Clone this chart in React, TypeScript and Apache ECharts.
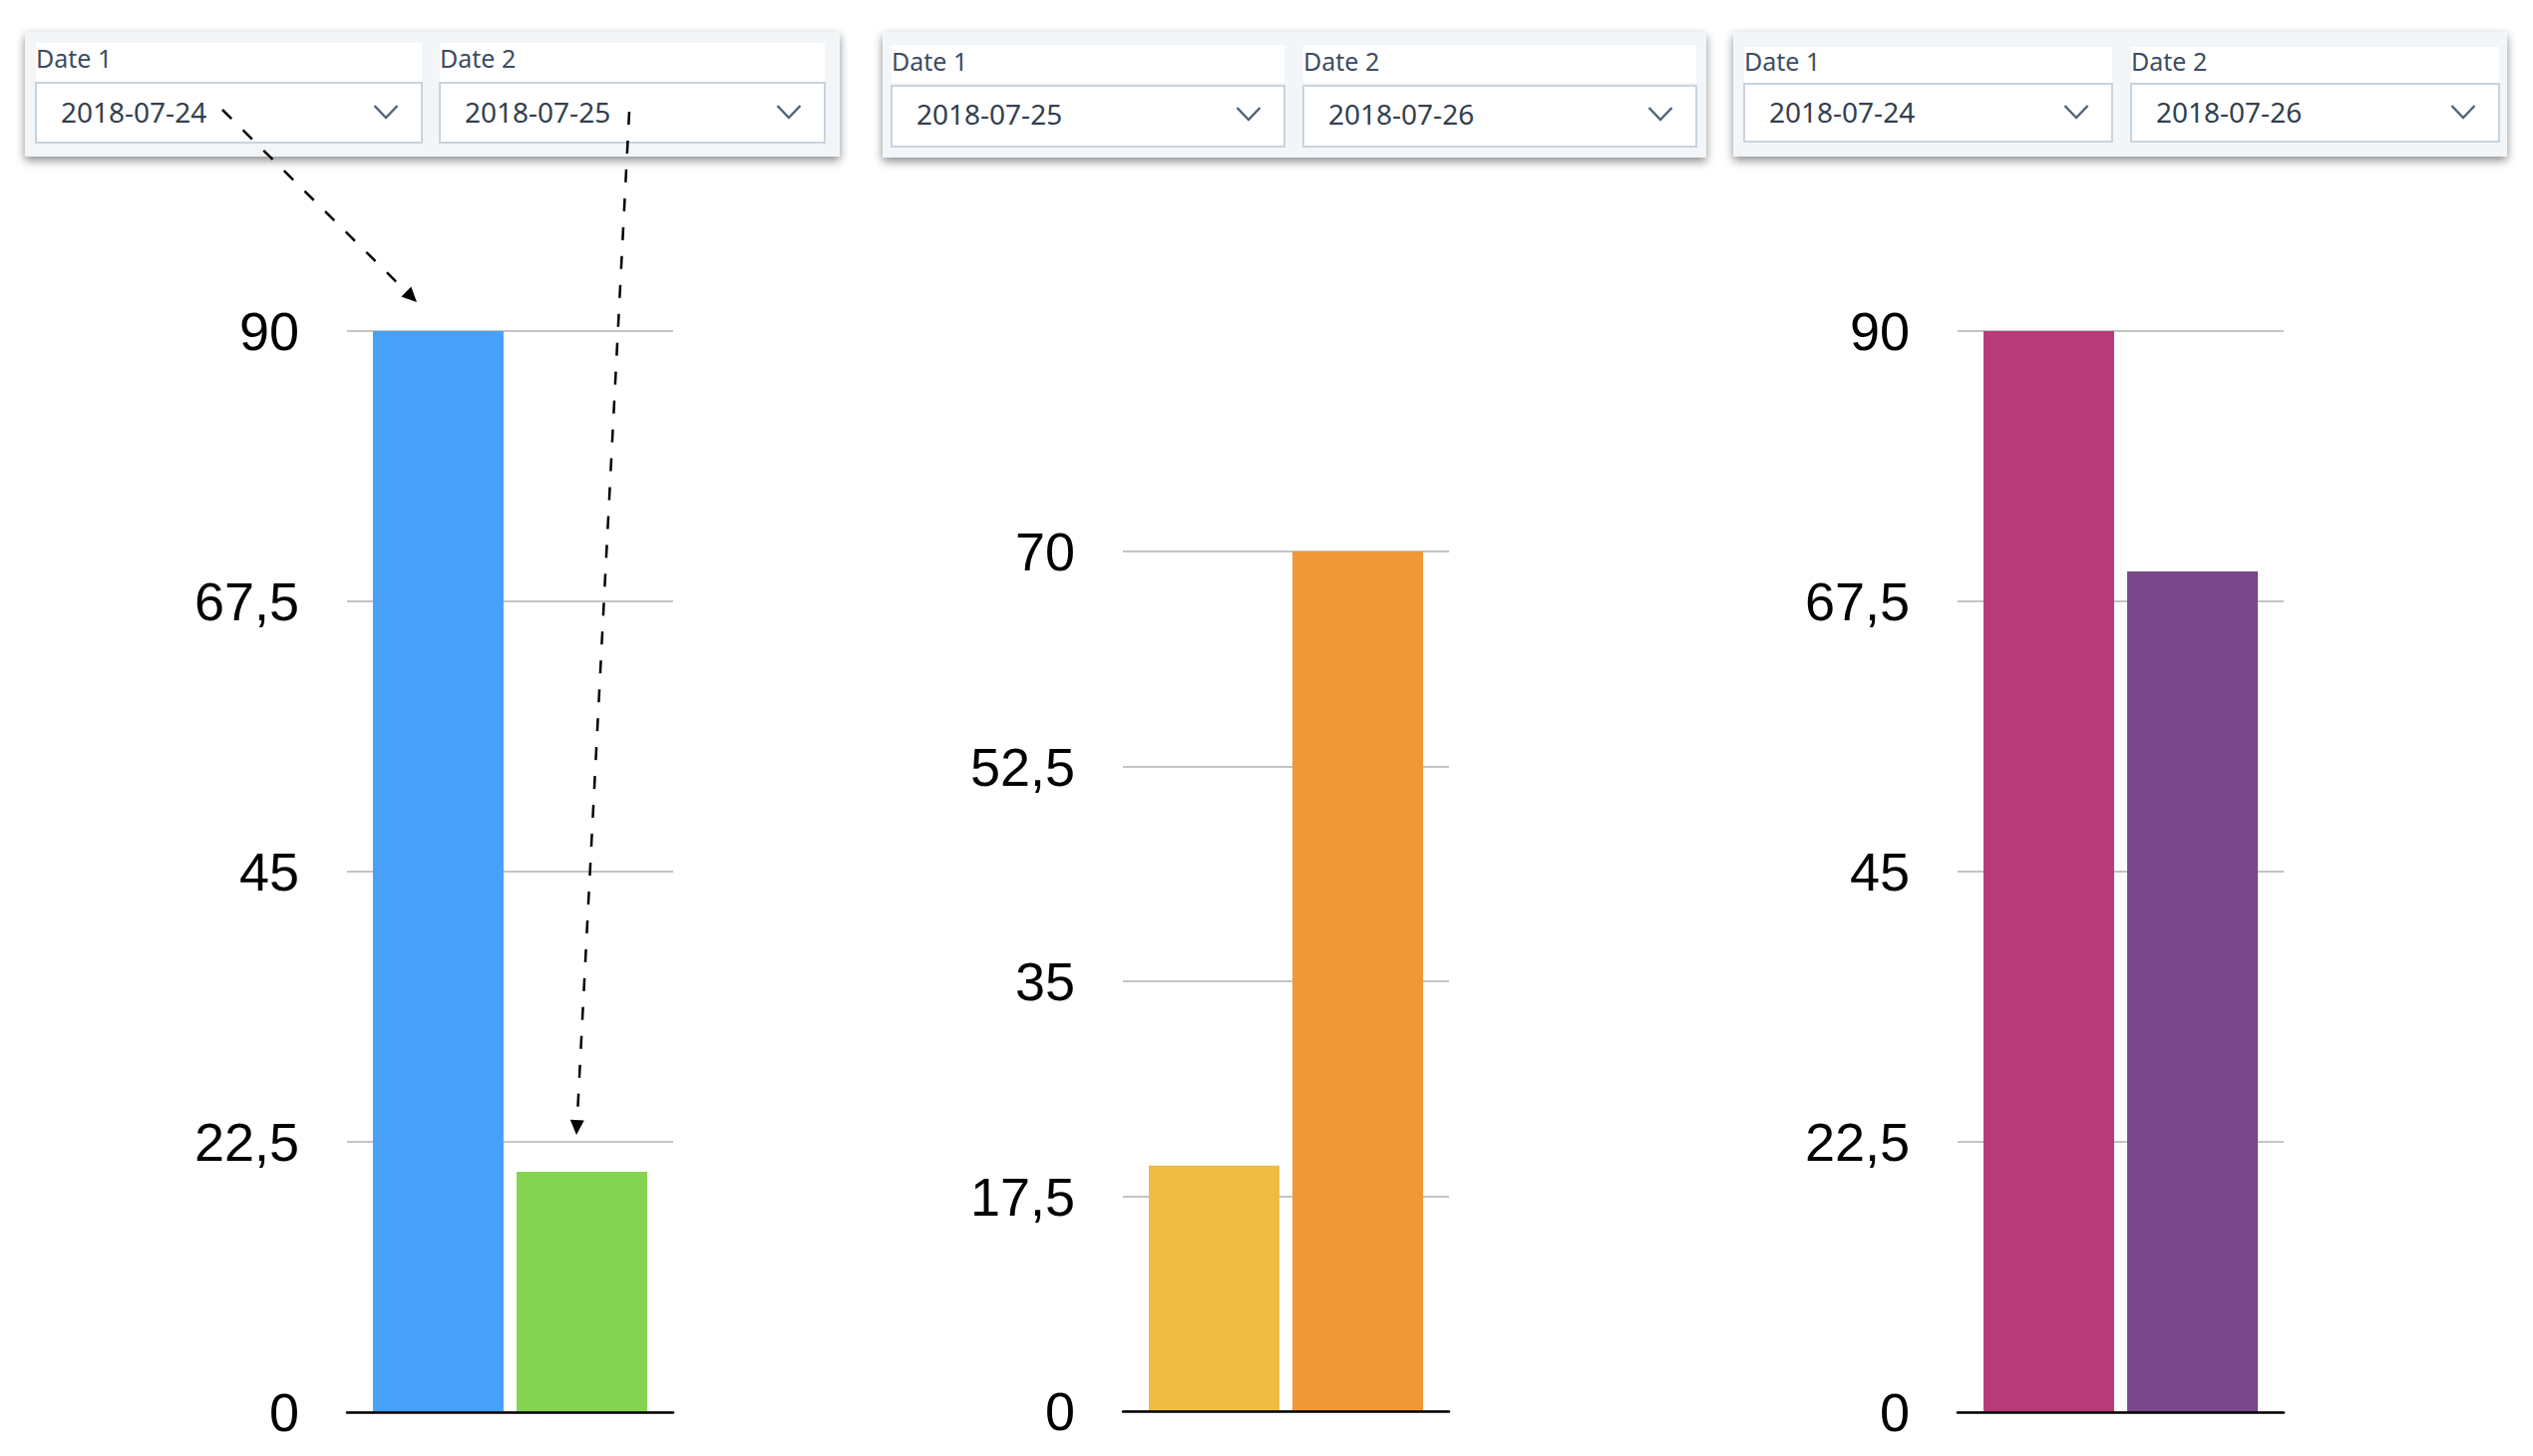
import React, { useEffect, useRef } from "react";
import * as echarts from "echarts";

// ---- data ----
const seriesNames = ["Date 1", "Date 2"];
const chart1Dates = ["2018-07-24", "2018-07-25"];
const chart2Dates = ["2018-07-25", "2018-07-26"];
const chart3Dates = ["2018-07-24", "2018-07-26"];
const chart1Values = [90, 20];
const chart2Values = [20, 70];
const chart3Values = [90, 70];
const chart1Colors = ["#47a1f8", "#84d452"];
const chart2Colors = ["#eebb43", "#ef9837"];
const chart3Colors = ["#b93a78", "#79478a"];
const chart1Axis = { max: 90, interval: 22.5 };
const chart2Axis = { max: 70, interval: 17.5 };
const chart3Axis = { max: 90, interval: 22.5 };

const grids = [
  { left: 348, top: 332, width: 327, height: 1084 },
  { left: 1126, top: 553, width: 327, height: 862 },
  { left: 1963, top: 332, width: 327, height: 1084 },
];
const barWidths = [131, 131, 131];

const panels = [
  { x: 25, y: 32, w: 817, h: 125, labelY: 43, labelH: 39, boxY: 83, boxH: 60, boxes: [[36, 387], [441, 386]], labelTextY: 58, dateTextY: 112 },
  { x: 885, y: 32, w: 826, h: 126, labelY: 45, labelH: 38, boxY: 86, boxH: 61, boxes: [[894, 394], [1307, 394]], labelTextY: 61, dateTextY: 114 },
  { x: 1738, y: 32, w: 776, h: 125, labelY: 47, labelH: 36, boxY: 84, boxH: 58, boxes: [[1749, 369], [2137, 369]], labelTextY: 61, dateTextY: 112 },
];

function panelGraphics(p: any, dates: string[]) {
  const els: any[] = [];
  els.push({
    type: "rect",
    shape: { x: p.x, y: p.y, width: p.w, height: p.h },
    style: { fill: "#f3f6f9", shadowBlur: 10, shadowOffsetY: 4, shadowColor: "rgba(0,0,0,0.45)" },
    z: 10,
  });
  p.boxes.forEach((b: number[], i: number) => {
    const [bx, bw] = b;
    els.push({ type: "rect", shape: { x: bx, y: p.labelY, width: bw, height: p.labelH }, style: { fill: "#ffffff" }, z: 11 });
    els.push({
      type: "rect",
      shape: { x: bx, y: p.boxY, width: bw, height: p.boxH },
      style: { fill: "#ffffff", stroke: "#c9d3de", lineWidth: 2 },
      z: 11,
    });
    els.push({
      type: "text",
      x: bx,
      y: p.labelTextY,
      style: { text: seriesNames[i], fontFamily: "Noto Sans", fontSize: 25, fill: "#3c4d63", textVerticalAlign: "middle" },
      z: 12,
    });
    els.push({
      type: "text",
      x: bx + 25,
      y: p.dateTextY,
      style: { text: dates[i], fontFamily: "Noto Sans", fontSize: 28, fill: "#333f4e", textVerticalAlign: "middle" },
      z: 12,
    });
    const cx = bx + bw - 36;
    const cy = p.dateTextY;
    els.push({
      type: "polyline",
      shape: { points: [[cx - 11.5, cy - 6], [cx, cy + 6], [cx + 11.5, cy - 6]] },
      style: { stroke: "#51647a", lineWidth: 2.5, fill: null },
      z: 12,
    });
  });
  return els;
}

function arrow(x1: number, y1: number, x2: number, y2: number) {
  const dx = x2 - x1, dy = y2 - y1;
  const len = Math.sqrt(dx * dx + dy * dy);
  const ux = dx / len, uy = dy / len;
  const hl = 15, hw = 7;
  const bx = x2 - ux * hl, by = y2 - uy * hl;
  const px = -uy, py = ux;
  return [
    {
      type: "line",
      shape: { x1, y1, x2: bx, y2: by },
      style: { stroke: "#000", lineWidth: 2.5, lineDash: [13, 16] },
      z: 20,
    },
    {
      type: "polygon",
      shape: { points: [[x2, y2], [bx + px * hw, by + py * hw], [bx - px * hw, by - py * hw]] },
      style: { fill: "#000" },
      z: 20,
    },
  ];
}

export default function App() {
  const ref = useRef<HTMLDivElement>(null);
  useEffect(() => {
    if (!ref.current) return;
    const chart = echarts.init(ref.current, undefined, { renderer: "svg" });
    const axes = [chart1Axis, chart2Axis, chart3Axis];
    const values = [chart1Values, chart2Values, chart3Values];
    const colors = [chart1Colors, chart2Colors, chart3Colors];
    const dates = [chart1Dates, chart2Dates, chart3Dates];
    const series: any[] = [];
    values.forEach((vals, ci) => {
      vals.forEach((v, si) => {
        series.push({
          type: "bar",
          name: dates[ci][si],
          xAxisIndex: ci,
          yAxisIndex: ci,
          data: [v],
          barWidth: barWidths[ci],
          barGap: "10%",
          itemStyle: { color: colors[ci][si] },
          z: 2,
        });
      });
    });
    chart.setOption({
      animation: false,
      backgroundColor: "#ffffff",
      grid: grids.map((g) => ({ ...g, containLabel: false })),
      xAxis: grids.map((_, i) => ({
        type: "category",
        gridIndex: i,
        data: [""],
        axisLine: { show: true, onZero: false, lineStyle: { color: "#000", width: 2.5 } },
        axisTick: { show: false },
        axisLabel: { show: false },
        splitLine: { show: false },
        z: 5,
      })),
      yAxis: axes.map((a, i) => ({
        type: "value",
        gridIndex: i,
        min: 0,
        max: a.max,
        interval: a.interval,
        axisLine: { show: false },
        axisTick: { show: false },
        splitLine: { show: true, lineStyle: { color: "#c4c4c4", width: 2 } },
        axisLabel: {
          margin: 48,
          fontFamily: "Liberation Sans",
          fontSize: 54,
          color: "#000",
          formatter: (v: number) => String(v).replace(".", ","),
        },
      })),
      series,
      graphic: [
        ...panelGraphics(panels[0], chart1Dates),
        ...panelGraphics(panels[1], chart2Dates),
        ...panelGraphics(panels[2], chart3Dates),
        ...arrow(223, 110, 418, 303),
        ...arrow(631, 112, 578, 1138),
      ],
    });
    return () => chart.dispose();
  }, []);
  return (
    <div
      ref={ref}
      style={{ position: "fixed", left: 0, top: 0, width: 2540, height: 1460 }}
    />
  );
}
